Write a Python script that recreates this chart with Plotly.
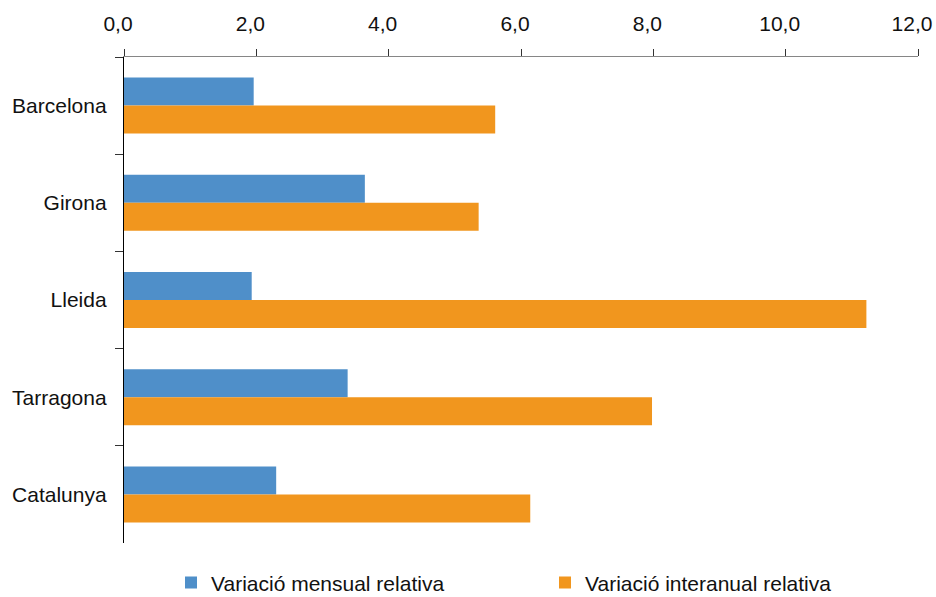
import plotly.graph_objects as go

# -----------------------------
# Data
# -----------------------------
territoris = ["Barcelona", "Girona", "Lleida", "Tarragona", "Catalunya"]
var_mensual = [1.96, 3.64, 1.93, 3.38, 2.30]
var_interanual = [5.61, 5.36, 11.22, 7.98, 6.14]
x_ticks = [0, 2, 4, 6, 8, 10, 12]

BLUE = "#4F8FC9"
ORANGE = "#F1961E"
FONT = "Liberation Sans, Arial, sans-serif"

fig = go.Figure()

fig.add_trace(go.Bar(
    y=territoris, x=var_mensual, orientation="h",
    name="Variació mensual relativa", marker=dict(color=BLUE, line=dict(width=0))
))
fig.add_trace(go.Bar(
    y=territoris, x=var_interanual, orientation="h",
    name="Variació interanual relativa", marker=dict(color=ORANGE, line=dict(width=0))
))

fig.update_layout(
    width=936, height=597,
    margin=dict(l=124, r=18, t=57, b=54, autoexpand=False),
    paper_bgcolor="white", plot_bgcolor="white",
    font=dict(family=FONT, size=21, color="#111111"),
    separators=",.",
    barmode="group", bargap=0.424, bargroupgap=0,
    showlegend=True,
    legend=dict(
        orientation="h",
        xref="container", x=0.1827, xanchor="left",
        yref="container", y=0.0235, yanchor="middle",
        entrywidth=329, entrywidthmode="pixels",
        font=dict(size=21), itemclick=False,
    ),
    xaxis=dict(
        side="top", range=[0, 12], tickvals=x_ticks, tickformat=".1f",
        showgrid=False, zeroline=False, automargin=False,
        showline=True, linecolor="#868686", linewidth=1.3,
        ticks="outside", ticklen=7, tickcolor="#333333", tickwidth=1.3,
        ticklabelstandoff=9, ticklabeloverflow="allow", ticklabelshift=-6,
    ),
    yaxis=dict(
        autorange="reversed", showgrid=False, zeroline=False, automargin=False,
        showline=True, linecolor="#000000", linewidth=1.3,
        ticks="outside", ticklen=8, tickcolor="#333333", tickwidth=1.3,
        tickson="boundaries", ticklabelstandoff=12,
    ),
)

# drop the default page margin so the figure fills the window exactly
fig.write_html(
    "out.html",
    config={"displayModeBar": False},
    post_script="document.body.style.margin='0';",
)
